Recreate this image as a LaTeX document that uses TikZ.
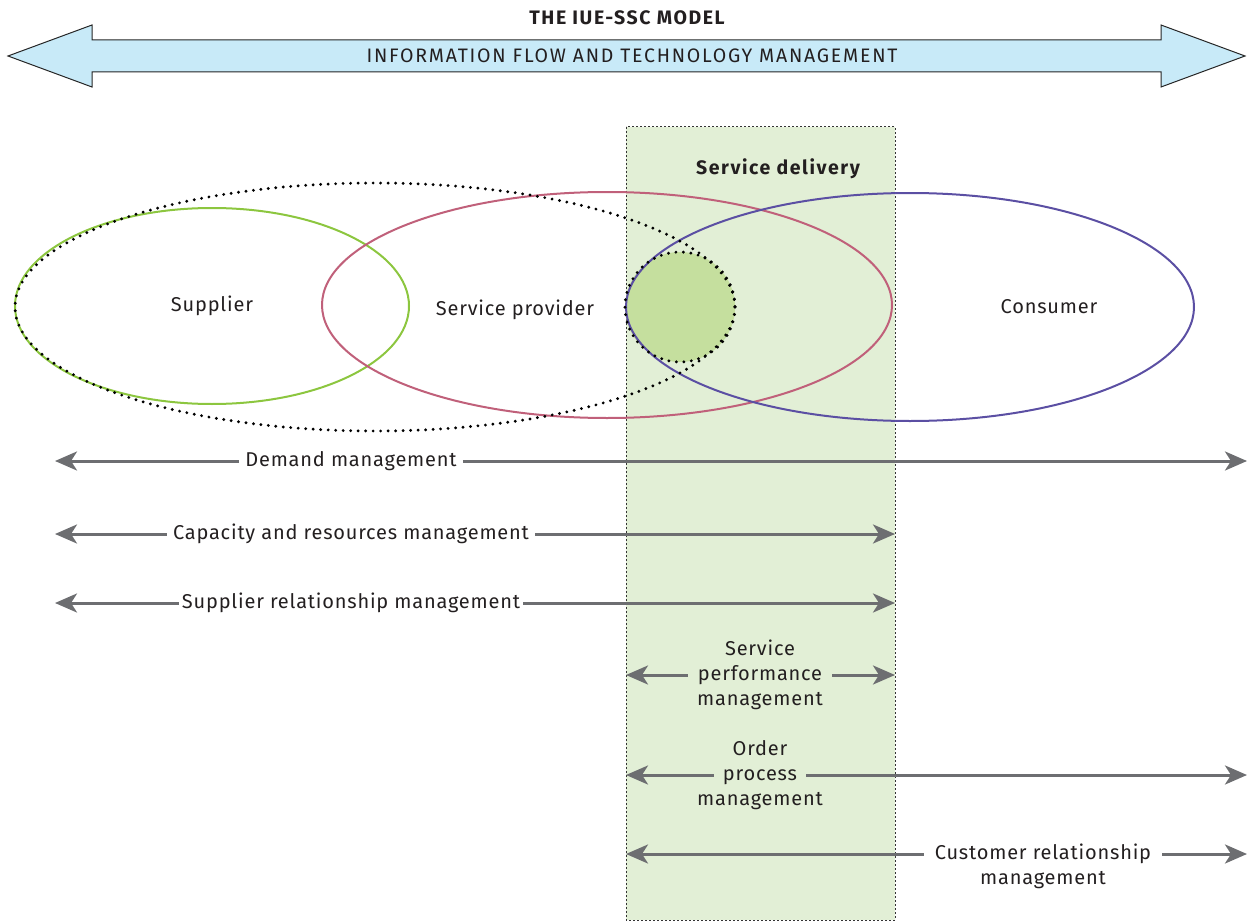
\documentclass[tikz,border=0pt]{standalone}
\usepackage{fontspec}
\setmainfont{Fira Sans}[LetterSpace=4]
\usetikzlibrary{arrows.meta}

\definecolor{bandblue}{HTML}{C8EAF8}
\definecolor{delivgreen}{HTML}{E2EFD6}
\definecolor{coregreen}{HTML}{C5DF9E}
\definecolor{supgreen}{HTML}{8CC63F}
\definecolor{provred}{HTML}{C0607A}
\definecolor{consblue}{HTML}{5B4FA3}
\definecolor{arrgray}{HTML}{6D6E71}
\definecolor{txt}{HTML}{231F20}

\begin{document}
\begin{tikzpicture}[x=1pt, y=-1pt,
	lbl/.style={anchor=base, font=\fontsize{20}{22}\selectfont, text=txt, inner sep=6pt},
	caps/.style={lbl, font=\fontsize{19.5}{22}\selectfont\addfontfeature{LetterSpace=9}},
	head/.style={lbl, font=\fontsize{19.5}{22}\selectfont\bfseries\addfontfeature{LetterSpace=8}},
	flow/.style={draw=arrgray, line width=3pt, -{Stealth[length=22pt, width=19pt, inset=6pt]}},
	ring/.style={line width=2pt},
	dots/.style={draw=black, line width=3.2pt, line cap=round, dash pattern=on 0pt off 7.5pt}]

	\useasboundingbox (0,0) rectangle (1248,923);

	% Informationsfluss
	\draw[fill=bandblue, draw=black!85, line width=1pt]
		(8,56) -- (92,25) -- (92,40) -- (1161,40) -- (1161,25) -- (1245,56)
		-- (1161,87) -- (1161,72) -- (92,72) -- (92,87) -- cycle;
	\node[head] (title) at (627,25) {THE IUE-SSC MODEL};
	\node[caps] (info) at (632,63) {INFORMATION FLOW AND TECHNOLOGY MANAGEMENT};

	% Service delivery
	\draw[fill=delivgreen, draw=black!80, line width=1pt, dash pattern=on 2pt off 2pt]
		(626,127) rectangle (895,920);
	\node[head] (sd) at (778,175) {Service delivery};

	% Ellipsen
	\fill[coregreen] (680,307) circle (55);
	\draw[ring, supgreen] (212,306) ellipse [x radius=197, y radius=98];
	\draw[ring, provred] (607,305) ellipse [x radius=285, y radius=113];
	\draw[ring, consblue] (910,307) ellipse [x radius=284, y radius=114];
	\draw[dots] (375,307) ellipse [x radius=360, y radius=124];
	\draw[dots] (680,307) circle (55);

	\node[lbl] (sup) at (212,311) {Supplier};
	\node[lbl] (prov) at (515,315) {Service provider};
	\node[lbl] (cons) at (1049,313) {Consumer};

	% Endpunkte
	\coordinate (dmL) at (55,461);   \coordinate (dmR) at (1247,461);
	\coordinate (crmL) at (55,534);  \coordinate (crmR) at (895,534);
	\coordinate (srmL) at (55,603);  \coordinate (srmR) at (895,603);
	\coordinate (spmL) at (626,675); \coordinate (spmR) at (895,675);
	\coordinate (opmL) at (626,775); \coordinate (opmR) at (1247,775);
	\coordinate (cusL) at (626,854); \coordinate (cusR) at (1247,854);

	% Managementebenen
	\node[lbl] (dm) at (351,466) {Demand management};
	\node[lbl] (crm) at (351,539) {Capacity and resources management};
	\node[lbl, inner xsep=3pt] (srm) at (351,608) {Supplier relationship management};

	\node[lbl] at (760,655) {Service};
	\node[lbl, inner xsep=10pt] (spm) at (760,680) {performance};
	\node[lbl] at (760,705) {management};

	\node[lbl] at (760,755) {Order};
	\node[lbl, inner xsep=9pt] (opm) at (760,780) {process};
	\node[lbl] at (760,805) {management};

	\node[lbl, inner xsep=11pt] (cus) at (1043,859) {Customer relationship};
	\node[lbl] at (1043,884) {management};

	\foreach \n in {dm, crm, srm, spm, opm, cus} {
		\draw[flow] (\n.west |- \n L) -- (\n L);
		\draw[flow] (\n.east |- \n R) -- (\n R);
	}

\end{tikzpicture}
\end{document}
